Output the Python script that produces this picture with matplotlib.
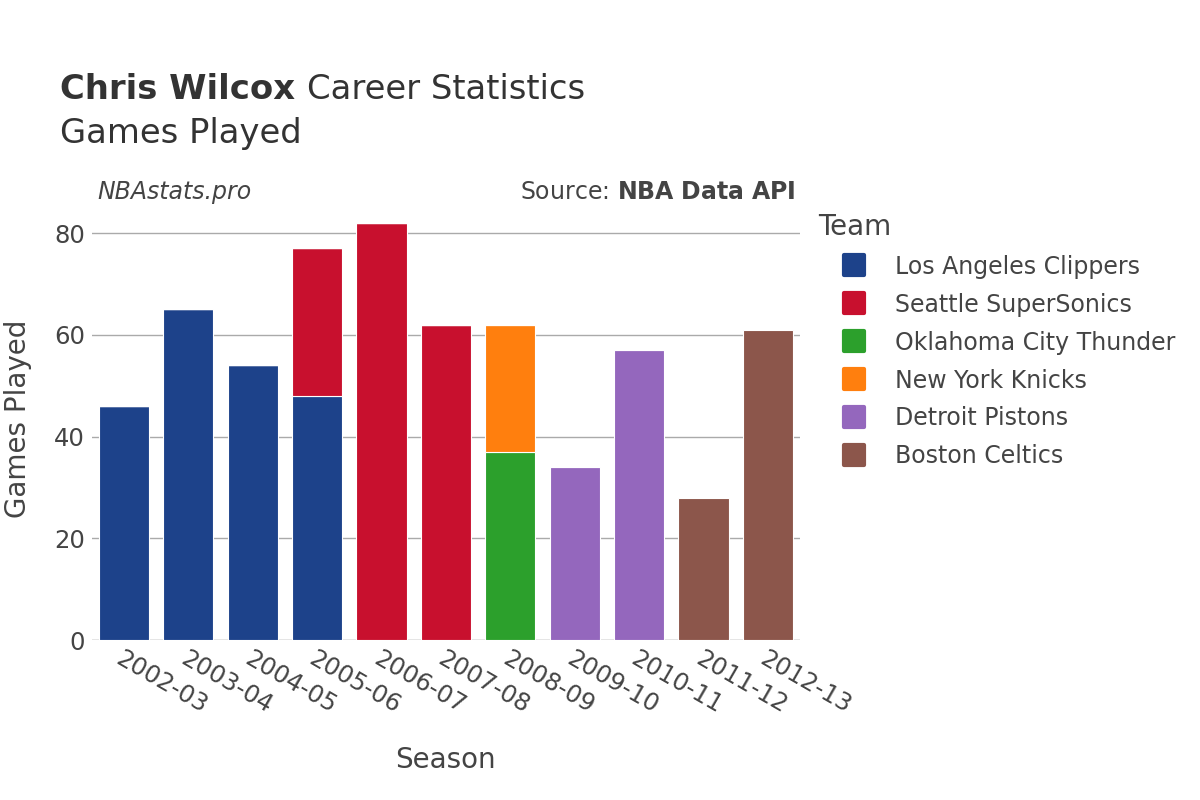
import matplotlib.pyplot as plt
from matplotlib.lines import Line2D
from matplotlib.markers import MarkerStyle
import numpy as np

seasons = ["2002-03", "2003-04", "2004-05", "2005-06", "2006-07", "2007-08",
           "2008-09", "2009-10", "2010-11", "2011-12", "2012-13"]
teams = ["Los Angeles Clippers", "Seattle SuperSonics", "Oklahoma City Thunder",
         "New York Knicks", "Detroit Pistons", "Boston Celtics"]
colors = ["#1d428a", "#c8102e", "#2ca02c", "#ff7f0e", "#9467bd", "#8c564b"]
games = {
    "Los Angeles Clippers":  [46, 65, 54, 48, 0, 0, 0, 0, 0, 0, 0],
    "Seattle SuperSonics":   [0, 0, 0, 29, 82, 62, 0, 0, 0, 0, 0],
    "Oklahoma City Thunder": [0, 0, 0, 0, 0, 0, 37, 0, 0, 0, 0],
    "New York Knicks":       [0, 0, 0, 0, 0, 0, 25, 0, 0, 0, 0],
    "Detroit Pistons":       [0, 0, 0, 0, 0, 0, 0, 34, 57, 0, 0],
    "Boston Celtics":        [0, 0, 0, 0, 0, 0, 0, 0, 0, 28, 61],
}

plt.rcParams['font.family'] = ['DejaVu Sans']
text_color = "#444444"

fig = plt.figure(figsize=(12, 8), dpi=100)
ax = fig.add_axes([0.0765, 0.2, 0.5902, 0.531])

x = np.arange(len(seasons))
width = 0.78
bottom = np.zeros(len(seasons))
for team, color in zip(teams, colors):
    vals = np.array(games[team], dtype=float)
    ax.bar(x, vals, width, bottom=bottom, color=color, edgecolor="white",
           linewidth=0.8, label=team, zorder=3)
    bottom += vals

ax.set_xlim(-0.5, len(seasons) - 0.5)
ax.set_ylim(0, 83.5)
ax.set_yticks([0, 20, 40, 60, 80])
ax.grid(axis="y", color="#aaaaaa", linewidth=1, zorder=0)
ax.axhline(0, color="#e5e5e5", linewidth=2, zorder=2)
for s in ax.spines.values():
    s.set_visible(False)
ax.tick_params(axis="both", length=0, labelsize=17.5, colors=text_color)
ax.tick_params(axis="y", pad=5)
ax.tick_params(axis="x", pad=5)
ax.set_xticks(x)
ax.set_xticklabels(seasons, rotation=-30, ha="left", rotation_mode="anchor")
ax.set_xlabel("Season", fontsize=20, color=text_color, va="center")
ax.xaxis.set_label_coords(0.5, -0.282)
ax.set_ylabel("Games Played", fontsize=20, color=text_color, va="center")
ax.yaxis.set_label_coords(-0.104, 0.52)

# title: bold name followed by regular text
fig.canvas.draw()
renderer = fig.canvas.get_renderer()
t1 = fig.text(0.05, 0.876, "Chris Wilcox ", fontsize=24.4, fontweight="bold",
              color="#333333", va="baseline")
bb = t1.get_window_extent(renderer=renderer)
fig.text(bb.x1 / fig.bbox.width, 0.876, "Career Statistics", fontsize=24.4,
         color="#333333", va="baseline")
fig.text(0.05, 0.821, "Games Played", fontsize=24.4, color="#333333", va="baseline")
fig.text(0.081, 0.751, "NBAstats.pro", fontsize=17, style="italic",
         color=text_color, va="baseline")
fig.text(0.663, 0.751, "Source: $\\bf{NBA\\ Data\\ API}$", fontsize=17,
         color=text_color, va="baseline", ha="right")

handles = [Line2D([], [], marker=MarkerStyle("s", joinstyle="round"),
                  linestyle="none", markersize=14, markeredgewidth=3,
                  markerfacecolor=c, markeredgecolor=c) for c in colors]
leg = fig.legend(handles, teams, title="Team", loc="upper left",
                 bbox_to_anchor=(0.682, 0.734), bbox_transform=fig.transFigure,
                 frameon=False, fontsize=17, title_fontsize=20,
                 handlelength=3.05, labelspacing=0.59, handletextpad=0.21,
                 borderpad=0, borderaxespad=0)
leg._legend_box.align = "left"
for t in leg.get_texts():
    t.set_color(text_color)
leg.get_title().set_color(text_color)

fig.savefig("out.png", dpi=100)
